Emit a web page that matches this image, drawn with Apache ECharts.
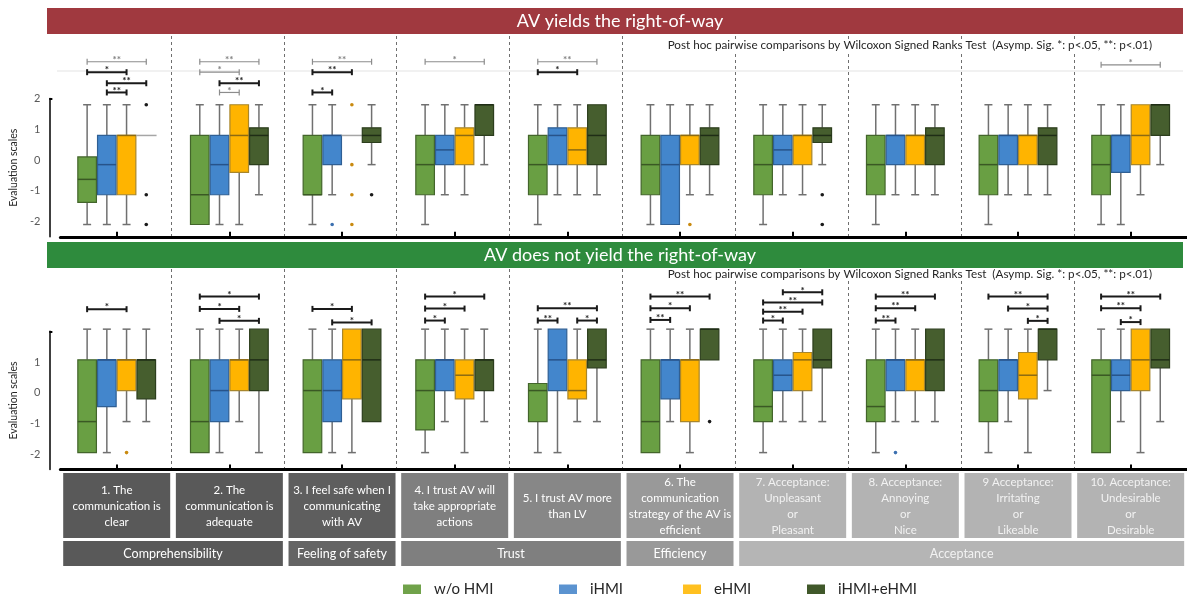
<!DOCTYPE html>
<html>
<head>
<meta charset="utf-8">
<title>AV evaluation scales</title>
<script src="https://cdn.jsdelivr.net/npm/echarts@6.0.0/dist/echarts.min.js"></script>
<style>
  html, body { margin: 0; padding: 0; background: #fff; }
  #chart { width: 1187px; height: 594px; }
</style>
</head>
<body>
<div id="chart"></div>
<script>
// statements on the x axis and the constructs they belong to
const items = [
  '1. The\ncommunication is\nclear',
  '2. The\ncommunication is\nadequate',
  '3. I feel safe when I\ncommunicating\nwith AV',
  '4. I trust AV will\ntake appropriate\nactions',
  '5. I trust AV more\nthan LV',
  '6. The\ncommunication\nstrategy of the AV is\nefficient',
  '7. Acceptance:\nUnpleasant\nor\nPleasant',
  '8. Acceptance:\nAnnoying\nor\nNice',
  '9 Acceptance:\nIrritating\nor\nLikeable',
  '10. Acceptance:\nUndesirable\nor\nDesirable'
];
const groupNames = ['Comprehensibility', 'Feeling of safety', 'Trust', 'Efficiency', 'Acceptance'];
const groupSpans = [[0, 1], [2, 2], [3, 4], [5, 5], [6, 9]];
const conditions = ['w/o HMI', 'iHMI', 'eHMI', 'iHMI+eHMI'];
const yTicksTop = [2, 1, 0, -1, -2];
const yTicksBottom = [1, 0, -1, -2];

// AV yields: [min, Q1, median, Q3, max] per statement
const yieldNoHMI = [
  [-2.1, -1.38, -0.63, 0.1, 1.8], [-2.1, -2.1, -1.13, 0.8, 1.8], [-2.1, -1.13, -1.13, 0.8, 1.8],
  [-2.1, -1.13, -0.15, 0.8, 1.8], [-2.1, -1.13, -0.15, 0.8, 1.8], [-2.1, -1.13, -0.15, 0.8, 1.8],
  [-2.1, -1.13, -0.15, 0.8, 1.8], [-2.1, -1.13, -0.15, 0.8, 1.8], [-2.1, -1.13, -0.15, 0.8, 1.8],
  [-2.1, -1.13, -0.15, 0.8, 1.8]
];
const yieldIHMI = [
  [-2.1, -1.13, -0.15, 0.8, 1.8], [-2.1, -1.13, -0.15, 0.8, 1.8], [-1.13, -0.15, 0.8, 0.8, 1.8],
  [-1.13, -0.15, 0.33, 0.8, 1.8], [-1.13, -0.15, 0.8, 1.05, 1.8], [-2.1, -2.1, -0.15, 0.8, 1.8],
  [-1.13, -0.15, 0.33, 0.8, 1.8], [-1.13, -0.15, 0.8, 0.8, 1.8], [-1.13, -0.15, 0.8, 0.8, 1.8],
  [-2.1, -0.4, 0.8, 0.8, 1.8]
];
const yieldEHMI = [
  [-2.1, -1.13, 0.8, 0.8, 1.8], [-2.1, -0.4, 0.8, 1.8, 1.8], [0.8, 0.8, 0.8, 0.8, 0.8],
  [-1.13, -0.15, 0.8, 1.05, 1.8], [-1.13, -0.15, 0.33, 1.05, 1.8], [-1.13, -0.15, 0.8, 0.8, 1.8],
  [-1.13, -0.15, 0.8, 0.8, 1.8], [-1.13, -0.15, 0.8, 0.8, 1.8], [-1.13, -0.15, 0.8, 0.8, 1.8],
  [-1.13, -0.15, 0.8, 1.8, 1.8]
];
const yieldBoth = [
  [0.8, 0.8, 0.8, 0.8, 0.8], [-1.13, -0.15, 0.8, 1.05, 1.8], [-0.15, 0.57, 0.8, 1.05, 1.8],
  [-0.15, 0.8, 1.8, 1.8, 1.8], [-1.13, -0.15, 0.8, 1.8, 1.8], [-1.13, -0.15, 0.8, 1.05, 1.8],
  [-0.15, 0.57, 0.8, 1.05, 1.8], [-1.13, -0.15, 0.8, 1.05, 1.8], [-1.13, -0.15, 0.8, 1.05, 1.8],
  [-0.15, 0.8, 1.8, 1.8, 1.8]
];
// outliers: [statement index, value]
const yieldOutNoHMI = [];
const yieldOutIHMI = [[2, -2.1]];
const yieldOutEHMI = [[2, 1.8], [2, -0.15], [2, -1.13], [2, -2.1], [5, -2.1]];
const yieldOutBoth = [[0, 1.8], [0, -1.13], [0, -2.1], [2, -1.13], [6, -1.13], [6, -2.1]];
// pairwise tests: [statement, from box, to box, bracket height, stars, bold]
const yieldTests = [
  [0, 0, 3, 3.2, 2, 0], [0, 0, 2, 2.86, 1, 1], [0, 1, 3, 2.5, 2, 1], [0, 1, 2, 2.2, 2, 1],
  [1, 0, 3, 3.2, 2, 0], [1, 0, 2, 2.86, 1, 0], [1, 1, 3, 2.5, 2, 1], [1, 1, 2, 2.2, 1, 0],
  [2, 0, 3, 3.2, 2, 0], [2, 0, 2, 2.86, 2, 1], [2, 0, 1, 2.2, 1, 1],
  [3, 0, 3, 3.2, 1, 0],
  [4, 0, 3, 3.2, 2, 0], [4, 0, 2, 2.86, 1, 1],
  [9, 0, 3, 3.1, 1, 0]
];

// AV does not yield
const notYieldNoHMI = [
  [-1.95, -1.95, -0.94, 1.07, 2.07], [-1.95, -1.95, -0.94, 1.07, 2.07], [-1.95, -1.95, 0.07, 1.07, 2.07],
  [-1.95, -1.21, 0.07, 1.07, 2.07], [-1.95, -0.94, 0.07, 0.3, 2.07], [-1.95, -1.95, -0.94, 1.07, 2.07],
  [-1.95, -0.94, -0.45, 1.07, 2.07], [-1.95, -0.94, -0.45, 1.07, 2.07], [-1.95, -0.94, 0.07, 1.07, 2.07],
  [-1.95, -1.95, 0.57, 1.07, 2.07]
];
const notYieldIHMI = [
  [-1.95, -0.45, 1.07, 1.07, 2.07], [-1.95, -0.94, 0.07, 1.07, 2.07], [-1.95, -0.94, 0.07, 1.07, 2.07],
  [-0.94, 0.07, 1.07, 1.07, 2.07], [-1.95, 0.07, 1.07, 2.07, 2.07], [-0.94, -0.2, 1.07, 1.07, 2.07],
  [-0.94, 0.07, 0.57, 1.07, 2.07], [-0.94, 0.07, 1.07, 1.07, 2.07], [-0.94, 0.07, 1.07, 1.07, 2.07],
  [-0.94, 0.07, 0.57, 1.07, 2.07]
];
const notYieldEHMI = [
  [-0.94, 0.07, 1.07, 1.07, 2.07], [-0.94, 0.07, 1.07, 1.07, 2.07], [-1.95, -0.2, 1.07, 2.07, 2.07],
  [-1.95, -0.2, 0.57, 1.07, 2.07], [-0.94, -0.2, 0.07, 1.07, 2.07], [-1.95, -0.94, 1.07, 1.07, 2.07],
  [-0.94, 0.07, 1.07, 1.31, 2.07], [-0.94, 0.07, 1.07, 1.07, 2.07], [-1.95, -0.2, 0.57, 1.31, 2.07],
  [-1.95, 0.07, 1.07, 2.07, 2.07]
];
const notYieldBoth = [
  [-0.94, -0.2, 1.07, 1.07, 2.07], [-1.95, 0.07, 1.07, 2.07, 2.07], [-0.94, -0.94, 1.07, 2.07, 2.07],
  [-0.94, 0.07, 1.07, 1.07, 2.07], [-0.94, 0.81, 1.07, 2.07, 2.07], [1.07, 1.07, 2.07, 2.07, 2.07],
  [-0.94, 0.81, 1.07, 2.07, 2.07], [-0.94, 0.07, 1.07, 2.07, 2.07], [0.07, 1.07, 2.07, 2.07, 2.07],
  [-0.94, 0.81, 1.07, 2.07, 2.07]
];
const notYieldOutNoHMI = [];
const notYieldOutIHMI = [[7, -1.95]];
const notYieldOutEHMI = [[0, -1.95]];
const notYieldOutBoth = [[5, -0.94]];
const notYieldTests = [
  [0, 0, 2, 2.72, 1, 1],
  [1, 0, 3, 3.13, 1, 1], [1, 0, 2, 2.73, 1, 1], [1, 1, 3, 2.34, 1, 1],
  [2, 0, 2, 2.73, 1, 1], [2, 1, 3, 2.29, 1, 1],
  [3, 0, 3, 3.13, 1, 1], [3, 0, 2, 2.74, 1, 1], [3, 0, 1, 2.35, 1, 1],
  [4, 0, 3, 2.75, 2, 1], [4, 0, 1, 2.35, 2, 1], [4, 2, 3, 2.35, 1, 1],
  [5, 0, 3, 3.13, 2, 1], [5, 0, 2, 2.75, 1, 1], [5, 0, 1, 2.37, 2, 1],
  [6, 1, 3, 3.27, 1, 1], [6, 0, 3, 2.94, 2, 1], [6, 0, 2, 2.64, 2, 1], [6, 0, 1, 2.35, 1, 1],
  [7, 0, 3, 3.13, 2, 1], [7, 0, 2, 2.75, 2, 1], [7, 0, 1, 2.35, 2, 1],
  [8, 0, 3, 3.13, 2, 1], [8, 1, 3, 2.74, 1, 1], [8, 2, 3, 2.34, 1, 1],
  [9, 0, 3, 3.13, 2, 1], [9, 0, 2, 2.75, 2, 1], [9, 1, 2, 2.3, 1, 1]
];

const FONT = 'Lato, "Open Sans", sans-serif';
const fills = ['#699f43', '#4386cc', '#ffb400', '#465e2e'];
const borders = ['#43652b', '#2f5f94', '#a8862c', '#2c3e1d'];
const medians = ['#3a5824', '#27538a', '#8c6a12', '#1f2d16'];
const dots = ['#43652b', '#3c70b0', '#c98a10', '#1a1a1a'];
const legendFills = ['#70a24a', '#5b93d0', '#ffc020', '#40582a'];

// x position of box "slot" inside the band of a statement
function slotX(api, cat, slot) {
  const band = api.size([1, 0])[0];
  return api.coord([cat, 0])[0] + (slot - 1.5) * band * 0.175;
}

function renderBox(slot) {
  return function (params, api) {
    const cat = api.value(0);
    const band = api.size([1, 0])[0];
    const x = slotX(api, cat, slot);
    const w = band * 0.165;
    const py = v => api.coord([cat, v])[1];
    const lo = py(api.value(1)), q1 = py(api.value(2)), med = py(api.value(3));
    const q3 = py(api.value(4)), hi = py(api.value(5));
    const wl = { stroke: '#707070', lineWidth: 1.5 };
    const kids = [];
    if (hi < q3 - 0.5) {
      kids.push({ type: 'line', shape: { x1: x, y1: hi, x2: x, y2: q3 }, style: wl });
      kids.push({ type: 'line', shape: { x1: x - 4, y1: hi, x2: x + 4, y2: hi }, style: wl });
    }
    if (lo > q1 + 0.5) {
      kids.push({ type: 'line', shape: { x1: x, y1: q1, x2: x, y2: lo }, style: wl });
      kids.push({ type: 'line', shape: { x1: x - 4, y1: lo, x2: x + 4, y2: lo }, style: wl });
    }
    if (q1 - q3 < 0.5) {
      kids.push({ type: 'line', shape: { x1: x - w / 2 - 1, y1: q3, x2: x + w / 2 + 1, y2: q3 },
        style: { stroke: '#a6a6a6', lineWidth: 1.5 } });
    } else {
      kids.push({ type: 'rect', shape: { x: x - w / 2, y: q3, width: w, height: q1 - q3 },
        style: { fill: fills[slot], stroke: borders[slot], lineWidth: 1.2 } });
      kids.push({ type: 'line', shape: { x1: x - w / 2, y1: med, x2: x + w / 2, y2: med },
        style: { stroke: medians[slot], lineWidth: 1.5 } });
    }
    return { type: 'group', children: kids };
  };
}

function renderDot(slot) {
  return function (params, api) {
    const cat = api.value(0);
    const y = api.coord([cat, api.value(1)])[1];
    return { type: 'circle', shape: { cx: slotX(api, cat, slot), cy: y, r: 1.8 }, style: { fill: dots[slot] } };
  };
}

function renderTest(params, api) {
  const cat = api.value(0);
  const x1 = slotX(api, cat, api.value(1));
  const x2 = slotX(api, cat, api.value(2));
  const y = api.coord([cat, api.value(3)])[1];
  const bold = api.value(5) === 1;
  const s = { stroke: bold ? '#1a1a1a' : '#8c8c8c', lineWidth: bold ? 2 : 1.2 };
  return {
    type: 'group',
    children: [
      { type: 'line', shape: { x1: x1, y1: y, x2: x2, y2: y }, style: s },
      { type: 'line', shape: { x1: x1, y1: y - 3, x2: x1, y2: y + 3 }, style: s },
      { type: 'line', shape: { x1: x2, y1: y - 3, x2: x2, y2: y + 3 }, style: s },
      { type: 'text', style: { text: '*'.repeat(api.value(4)), x: (x1 + x2) / 2, y: y - 2,
        fill: bold ? '#1a1a1a' : '#7f7f7f', fontSize: 10, fontWeight: 'bold', fontFamily: FONT,
        align: 'center', verticalAlign: 'middle' } }
    ]
  };
}

const panels = [
  { boxes: [yieldNoHMI, yieldIHMI, yieldEHMI, yieldBoth],
    outs: [yieldOutNoHMI, yieldOutIHMI, yieldOutEHMI, yieldOutBoth], tests: yieldTests },
  { boxes: [notYieldNoHMI, notYieldIHMI, notYieldEHMI, notYieldBoth],
    outs: [notYieldOutNoHMI, notYieldOutIHMI, notYieldOutEHMI, notYieldOutBoth], tests: notYieldTests }
];

const series = [];
panels.forEach((p, pi) => {
  p.boxes.forEach((rows, slot) => {
    series.push({
      type: 'custom', name: conditions[slot], xAxisIndex: pi, yAxisIndex: pi, clip: false, z: 3,
      itemStyle: { color: fills[slot] }, encode: { x: 0, y: [1, 2, 3, 4, 5] },
      renderItem: renderBox(slot), data: rows.map((r, i) => [i].concat(r))
    });
    series.push({
      type: 'custom', name: conditions[slot], xAxisIndex: pi, yAxisIndex: pi, clip: false, z: 4,
      itemStyle: { color: fills[slot] }, encode: { x: 0, y: 1 },
      renderItem: renderDot(slot), data: p.outs[slot]
    });
  });
  series.push({
    type: 'custom', name: 'tests', xAxisIndex: pi, yAxisIndex: pi, clip: false, z: 4,
    encode: { x: 0, y: 3 }, renderItem: renderTest, data: p.tests
  });
});

const GL = 58, GR = -12;
const grids = [
  { left: GL, right: GR, top: 98.6, height: 138.2 },
  { left: GL, right: GR, top: 331.3, height: 138.2 },
  { left: GL, right: GR, top: 36, height: 200.7 },
  { left: GL, right: GR, top: 269, height: 200.4 }
];

function plotX(gi) {
  return {
    type: 'category', gridIndex: gi, data: items, position: 'bottom',
    axisLine: { show: true, onZero: false, lineStyle: { color: '#000', width: 3 } },
    axisTick: { show: true, inside: true, alignWithLabel: true, interval: 0, length: 5,
      lineStyle: { color: '#000', width: 2 } },
    axisLabel: { show: false }, splitLine: { show: false }
  };
}
function sepX(gi) {
  return {
    type: 'category', gridIndex: gi, data: items,
    axisLine: { show: false }, axisTick: { show: false }, axisLabel: { show: false },
    splitLine: { show: true, interval: 0, showMinLine: false, showMaxLine: false,
      lineStyle: { color: '#6f6f6f', type: [3, 3], width: 1 } }
  };
}
function plotY(gi, ticks) {
  return {
    type: 'value', gridIndex: gi, min: -2.5, max: 2, offset: 11,
    name: 'Evaluation scales', nameLocation: 'middle', nameRotate: 90, nameGap: 21,
    nameTextStyle: { fontSize: 10.5, color: '#262626', fontFamily: FONT },
    axisLine: { show: true, onZero: false, lineStyle: { color: '#000', width: 1.5 } },
    axisTick: { show: true, inside: true, length: 3, customValues: [2], lineStyle: { color: '#000', width: 2 } },
    axisLabel: { customValues: ticks, fontSize: 11, color: '#595959', fontFamily: FONT, margin: 9 },
    splitLine: { show: false }
  };
}
function sepY(gi) {
  return { type: 'value', gridIndex: gi, min: 0, max: 1, show: false };
}

const legendLeft = [398, 554, 678, 802];

const option = {
  animation: false,
  backgroundColor: '#fff',
  textStyle: { fontFamily: FONT },
  grid: grids,
  xAxis: [plotX(0), plotX(1), sepX(2), sepX(3)],
  yAxis: [plotY(0, yTicksTop), plotY(1, yTicksBottom), sepY(2), sepY(3)],
  legend: conditions.map((c, i) => ({
    data: [{ name: c, itemStyle: { color: legendFills[i] } }],
    left: legendLeft[i], top: 577, icon: 'rect', itemWidth: 18, itemHeight: 10,
    selectedMode: false,
    textStyle: { fontSize: 15, color: '#262626', fontFamily: FONT, padding: [0, 0, 0, 8] }
  })),
  series: series
};

const chart = echarts.init(document.getElementById('chart'));
chart.setOption(option);

// header banners, note text and the statement / construct table under the plots
const itemColors = ['#595959', '#595959', '#5e5e5e', '#7f7f7f', '#878787', '#999999',
  '#b3b3b3', '#b3b3b3', '#b3b3b3', '#b3b3b3'];
const groupColors = ['#595959', '#646464', '#7f7f7f', '#999999', '#b5b5b5'];
const note = 'Post hoc pairwise comparisons by Wilcoxon Signed Ranks Test  (Asymp. Sig. *: p<.05, **: p<.01)';

const centers = items.map((_, i) => chart.convertToPixel({ xAxisIndex: 1 }, i));
const half = 53.5;
const graphic = [
  { type: 'rect', shape: { x: 47, y: 8, width: 1136, height: 26 }, style: { fill: '#a0393f' } },
  { type: 'text', style: { text: 'AV yields the right-of-way', x: 620, y: 21, fill: '#fff', fontSize: 18,
    fontFamily: FONT, align: 'center', verticalAlign: 'middle' } },
  { type: 'rect', shape: { x: 47, y: 242, width: 1136, height: 26 }, style: { fill: '#2e8b3d' } },
  { type: 'text', style: { text: 'AV does not yield the right-of-way', x: 620, y: 255, fill: '#fff', fontSize: 18,
    fontFamily: FONT, align: 'center', verticalAlign: 'middle' } },
  { type: 'line', shape: { x1: 57, y1: 71, x2: 1183, y2: 71 }, style: { stroke: '#ececec', lineWidth: 1.5 } },
  { type: 'text', z: 10, style: { text: note, x: 1152, y: 45, fill: '#262626', fontSize: 11.7, fontFamily: FONT,
    align: 'right', verticalAlign: 'middle', backgroundColor: '#fff' } },
  { type: 'text', z: 10, style: { text: note, x: 1152, y: 274, fill: '#262626', fontSize: 11.7, fontFamily: FONT,
    align: 'right', verticalAlign: 'middle', backgroundColor: '#fff' } }
];
items.forEach((label, i) => {
  const c = centers[i];
  graphic.push({ type: 'rect', shape: { x: c - half, y: 473, width: half * 2, height: 65 },
    style: { fill: itemColors[i] } });
  graphic.push({ type: 'text', style: { text: label, x: c, y: 506, fill: i > 5 ? '#f2f2f2' : '#fff',
    fontSize: 11.5, lineHeight: 16, fontFamily: FONT, align: 'center', verticalAlign: 'middle' } });
});
groupNames.forEach((g, gi) => {
  const a = centers[groupSpans[gi][0]] - half;
  const b = centers[groupSpans[gi][1]] + half;
  graphic.push({ type: 'rect', shape: { x: a, y: 541, width: b - a, height: 25 }, style: { fill: groupColors[gi] } });
  graphic.push({ type: 'text', style: { text: g, x: Math.min((a + b) / 2, 965), y: 553.5, fill: gi === 4 ? '#f2f2f2' : '#fff',
    fontSize: 12.5, fontFamily: FONT, align: 'center', verticalAlign: 'middle' } });
});
chart.setOption({ graphic: graphic });
</script>
</body>
</html>
